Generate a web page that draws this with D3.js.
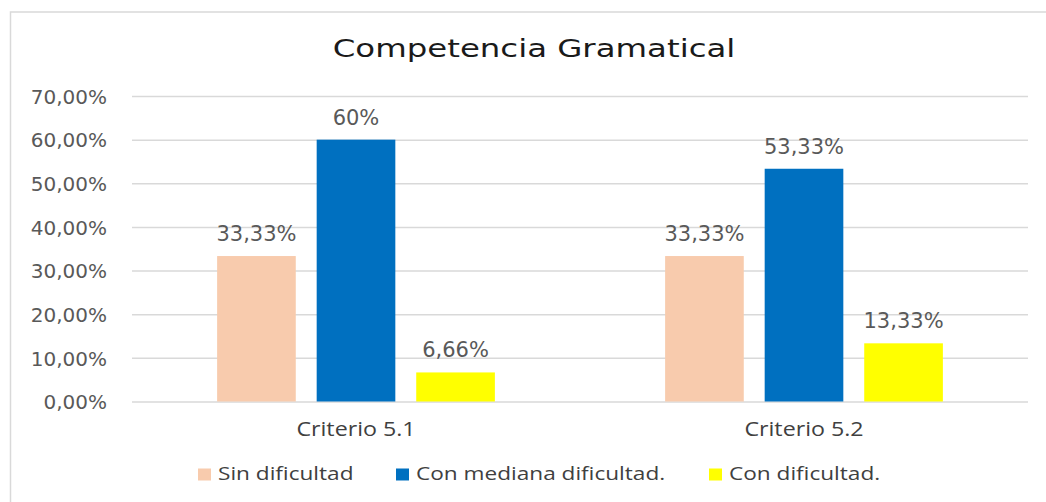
<!DOCTYPE html>
<html>
<head>
<meta charset="utf-8">
<script src="https://cdn.jsdelivr.net/npm/d3@7"></script>
<style>
  body { margin: 0; background: #fff; }
  svg { display: block; }
</style>
</head>
<body>
<div id="chart"></div>
<script>
// data
var categories = ["Criterio 5.1", "Criterio 5.2"];
var series = ["Sin dificultad", "Con mediana dificultad.", "Con dificultad."];
var sinDificultad = [0.3333, 0.3333];
var conMediana = [0.60, 0.5333];
var conDificultad = [0.0666, 0.1333];
var valueLabels = [["33,33%", "60%", "6,66%"], ["33,33%", "53,33%", "13,33%"]];
var yTicks = [0, 0.1, 0.2, 0.3, 0.4, 0.5, 0.6, 0.7];
var colours = ["#F8CBAD", "#0070C0", "#FFFF00"];

var width = 1046, height = 502;
var stretch = 1.19; // the original's Calibri-ish text is drawn wide

var svg = d3.select("#chart").append("svg")
    .attr("width", width)
    .attr("height", height);

// chart frame (only top and left edges show in the picture)
svg.append("rect")
    .attr("x", 10.5)
    .attr("y", 12)
    .attr("width", width + 20)
    .attr("height", height + 20)
    .style("fill", "none")
    .style("stroke", "#d9d9d9")
    .style("stroke-width", 1.5);

// title
svg.append("text")
    .attr("transform", "translate(534,57) scale(1.35,1)")
    .attr("text-anchor", "middle")
    .style("font-family", "DejaVu Sans")
    .style("font-size", "24px")
    .style("fill", "#1a1a1a")
    .text("Competencia Gramatical");

var x0 = d3.scaleBand()
    .domain(categories)
    .range([132, 1028])
    .paddingInner(0.38)
    .paddingOuter(0.19);

var x1 = d3.scaleBand()
    .domain(series)
    .range([0, x0.bandwidth()])
    .paddingInner(0.21);

var y = d3.scaleLinear()
    .domain([0, 0.7])
    .range([401.5, 96]);

// horizontal grid lines + tick labels
var yAxis = d3.axisLeft(y)
    .tickValues(yTicks)
    .tickSize(-(1028 - 132))
    .tickPadding(25)
    .tickFormat(function (d) { return d3.format(".2f")(d * 100).replace(".", ",") + "%"; });

var gy = svg.append("g")
    .attr("transform", "translate(132,0)")
    .call(yAxis);
gy.select(".domain").remove();
gy.selectAll(".tick line")
    .style("stroke", "#d9d9d9")
    .style("stroke-width", 1.5);
gy.selectAll(".tick text")
    .attr("dy", "0.36em")
    .style("font-family", "DejaVu Sans")
    .style("font-size", "20px")
    .style("fill", "#595959");

var table = categories.map(function (c, i) {
    return {
        category: c,
        values: [sinDificultad[i], conMediana[i], conDificultad[i]],
        labels: valueLabels[i]
    };
});

var groups = svg.selectAll(".group")
    .data(table)
    .enter().append("g")
    .attr("class", "group")
    .attr("transform", function (d) { return "translate(" + x0(d.category) + ",0)"; });

groups.selectAll("rect")
    .data(function (d) { return d.values.map(function (v, j) { return { s: series[j], v: v, j: j }; }); })
    .enter().append("rect")
    .attr("x", function (d) { return x1(d.s); })
    .attr("y", function (d) { return y(d.v); })
    .attr("width", x1.bandwidth())
    .attr("height", function (d) { return y(0) - y(d.v); })
    .style("fill", function (d) { return colours[d.j]; });

groups.selectAll(".vlabel")
    .data(function (d) { return d.values.map(function (v, j) { return { s: series[j], v: v, t: d.labels[j] }; }); })
    .enter().append("text")
    .attr("class", "vlabel")
    .attr("x", function (d) { return x1(d.s) + x1.bandwidth() / 2; })
    .attr("y", function (d) { return y(d.v) - 15; })
    .attr("text-anchor", "middle")
    .style("font-family", "DejaVu Sans")
    .style("font-size", "21px")
    .style("fill", "#595959")
    .text(function (d) { return d.t; });

// category labels
svg.selectAll(".cat")
    .data(categories)
    .enter().append("text")
    .attr("class", "cat")
    .attr("transform", function (d) {
        return "translate(" + (x0(d) + x0.bandwidth() / 2) + ",436) scale(" + stretch + ",1)";
    })
    .attr("text-anchor", "middle")
    .style("font-family", "Open Sans")
    .style("font-size", "19.5px")
    .style("fill", "#404040")
    .text(function (d) { return d; });

// legend
var legendX = [198, 396, 709];
var legend = svg.selectAll(".legend")
    .data(series)
    .enter().append("g")
    .attr("class", "legend")
    .attr("transform", function (d, i) { return "translate(" + legendX[i] + ",468.5)"; });

legend.append("rect")
    .attr("width", 13)
    .attr("height", 12)
    .style("fill", function (d, i) { return colours[i]; });

legend.append("text")
    .attr("transform", "translate(20,11.5) scale(" + stretch + ",1)")
    .style("font-family", "Open Sans")
    .style("font-size", "19px")
    .style("fill", "#404040")
    .text(function (d) { return d; });
</script>
</body>
</html>
